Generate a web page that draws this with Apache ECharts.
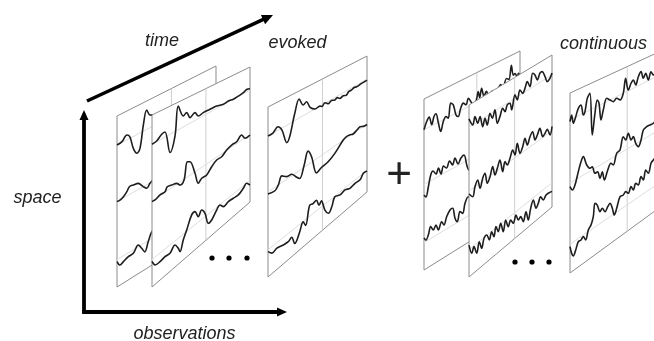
<!DOCTYPE html>
<html><head><meta charset="utf-8">
<script src="https://cdn.jsdelivr.net/npm/echarts@6/dist/echarts.min.js"></script>
<style>html,body{margin:0;padding:0;background:#fff}#c{width:654px;height:341px}</style>
</head><body><div id="c"></div>
<script>
// ---------- DATA: each trace is a list of [time fraction across panel, amplitude] ----------
const evokedP1T1 = [[0,0],[0.05,0.8],[0.10,4.9],[0.13,1.5],[0.165,-11.9],[0.2,-18.6],[0.232,-15.4],[0.266,6],[0.3,19.4],[0.333,12.7],[0.38,10],[0.42,5]];
const evokedP1T2 = [[0,0],[0.03,-0.2],[0.065,1.2],[0.1,4.3],[0.125,7.8],[0.165,7.3],[0.215,6.1],[0.265,0],[0.3,-3.6],[0.333,-0.5],[0.38,2]];
const evokedP1T3 = [[0,-1.9],[0.03,-7.2],[0.065,-5.9],[0.115,-3.9],[0.165,-3.6],[0.215,1.7],[0.25,-3.7],[0.28,-9.1],[0.315,-1.1],[0.345,5.7],[0.39,10]];

const evokedP2T1 = [[0,0],[0.048,0.7],[0.099,4.6],[0.133,5],[0.184,-18.3],[0.235,-4.5],[0.268,23.7],[0.319,11],[0.354,12.4],[0.388,5.6],[0.439,7.8],[0.472,2.6],[0.523,3.2],[0.592,2.8],[0.66,2.3],[0.728,0.4],[0.779,0.9],[0.83,0],[0.881,0.3],[0.932,0.9],[0.966,2.3],[1,1.2]];
const evokedP2T2 = [[0,-0.5],[0.031,-1],[0.082,0.6],[0.133,0.5],[0.156,3.9],[0.201,2.6],[0.252,0.9],[0.286,-3],[0.327,-0.7],[0.36,15.3],[0.388,13.5],[0.439,-1.5],[0.472,-13.7],[0.507,-11],[0.558,-11.1],[0.609,-6.2],[0.66,-2.9],[0.711,-3],[0.762,0.3],[0.813,1.9],[0.864,1.8],[0.915,5.1],[0.949,-0.4],[1,-0.5]];
const evokedP2T3 = [[0,-2],[0.031,-7.9],[0.082,-8.7],[0.133,-7.7],[0.184,-8.3],[0.235,-4.1],[0.268,-10],[0.286,-14.8],[0.319,-5.8],[0.354,1.5],[0.405,12.5],[0.439,13.1],[0.472,5.4],[0.507,9.4],[0.541,3.4],[0.574,-9.2],[0.609,-8.7],[0.66,-2.7],[0.694,-0.4],[0.728,-4.7],[0.779,-3.8],[0.83,-4.4],[0.881,-5.1],[0.932,-2.5],[0.966,-0.2],[1,-4.6]];

const evokedP3T1 = [[0,0],[0.05,0],[0.1,3.4],[0.14,-2],[0.19,-17.5],[0.22,-13],[0.27,7],[0.315,19],[0.355,10.7],[0.39,12],[0.425,4.5],[0.475,0],[0.525,0],[0.545,-1.5],[0.575,0.5],[0.61,-2.4],[0.64,-1],[0.675,-2.5],[0.7,-1.5],[0.725,-3.7],[0.76,-3],[0.79,-4.3],[0.815,-2],[0.845,-2],[0.87,-1],[0.895,-1.7],[0.945,-1.2],[1,-1]];
const evokedP3T2 = [[0,-2],[0.07,-3.5],[0.105,0],[0.14,6.6],[0.19,2.5],[0.24,1.4],[0.29,-5],[0.32,-8.3],[0.365,2],[0.405,13.3],[0.44,5.3],[0.49,-14.2],[0.54,-12.2],[0.61,-11],[0.675,-7.3],[0.76,0.3],[0.79,1.5],[0.83,0.7],[0.86,-0.5],[0.9,1],[0.93,2],[0.965,0],[1,-0.5]];
const evokedP3T3 = [[0,-1.8],[0.04,-6.5],[0.09,-5.5],[0.155,-7.5],[0.205,-8.2],[0.24,-6.6],[0.27,-15.2],[0.32,-7.6],[0.355,-0.3],[0.38,-5.8],[0.42,11],[0.455,10],[0.49,10.6],[0.515,3.6],[0.54,6],[0.575,-6],[0.61,-12],[0.645,-8],[0.675,-0.7],[0.727,-3],[0.778,-2],[0.828,-4.4],[0.879,-3.4],[0.93,-4],[0.963,0],[1,-0.7]];

const contAT1 = [[0,0],[0.028,6.9],[0.055,9.9],[0.08,1],[0.104,8.1],[0.125,9.7],[0.149,-0.2],[0.174,-10.5],[0.201,-1.8],[0.229,1.8],[0.253,-1.1],[0.278,12.7],[0.305,9.6],[0.333,-1.8],[0.357,-4.7],[0.382,2.4],[0.41,6.1],[0.438,3],[0.462,8.4],[0.497,1.7],[0.52,-3],[0.55,4],[0.565,10],[0.58,3],[0.6,11.4],[0.625,2],[0.65,6],[0.68,-2],[0.71,3],[0.74,-3],[0.77,2],[0.8,5],[0.82,-1],[0.86,8.2],[0.885,6],[0.91,18.8],[0.93,8],[0.95,8.7],[0.97,4],[0.985,7],[1,3]];
const contAT2 = [[0,-10.5],[0.02,-13.6],[0.045,-4.9],[0.07,5.8],[0.094,8.4],[0.125,3.7],[0.151,8.3],[0.177,0.9],[0.203,7.5],[0.234,3.8],[0.266,9.2],[0.297,3.5],[0.323,9.1],[0.354,1.4],[0.385,5.7],[0.417,7],[0.448,-5.7],[0.469,-10.8],[0.5,-4]];
const contAT3 = [[0,4.6],[0.02,1.4],[0.045,5],[0.07,11.9],[0.097,7],[0.125,10.4],[0.149,4],[0.184,10.2],[0.208,5.5],[0.236,12.2],[0.271,16.9],[0.299,17],[0.323,5.6],[0.347,0.8],[0.375,9.2],[0.403,5.9],[0.427,14.5],[0.461,19.1],[0.5,12]];

const contBT1 = [[0,8.5],[0.045,0],[0.072,6.9],[0.105,-1.4],[0.133,3.7],[0.165,-8],[0.193,-1],[0.22,-9.2],[0.253,0.8],[0.281,-5.6],[0.313,1],[0.341,-14],[0.373,-8.9],[0.406,-2.2],[0.434,-7.1],[0.461,-1.8],[0.494,-1.9],[0.514,-9.6],[0.554,3.3],[0.582,-3.2],[0.614,5.1],[0.647,0],[0.675,3.7],[0.702,8.8],[0.735,2.1],[0.767,13.8],[0.795,10.6],[0.823,4.2],[0.855,9.2],[0.883,9.3],[0.916,2.6],[0.943,-3.9],[0.976,-2.2],[1,1.7]];
const contBT2 = [[0,-3],[0.045,-8.4],[0.072,0],[0.105,4.7],[0.133,-5.3],[0.165,2.8],[0.193,6.1],[0.22,-5.5],[0.253,-0.9],[0.286,7.2],[0.313,-2.8],[0.341,2.2],[0.373,8.6],[0.406,-5.1],[0.434,3.3],[0.461,-1.7],[0.494,3.1],[0.527,9.4],[0.554,2.7],[0.582,12.8],[0.614,0.8],[0.647,5.5],[0.675,12.2],[0.702,3.8],[0.735,10.2],[0.767,13.2],[0.795,3.3],[0.823,6.6],[0.855,11.4],[0.888,1],[0.916,2.7],[0.943,5.1],[0.976,-2.6],[1,4.5]];
const contBT3 = [[0,4.3],[0.033,-6],[0.06,-1.2],[0.093,-10],[0.124,-0.5],[0.153,-9],[0.181,-0.9],[0.213,0.3],[0.245,-6.8],[0.273,-0.5],[0.301,-7.3],[0.325,1.1],[0.353,-5.8],[0.382,0.7],[0.413,-9.8],[0.442,0],[0.473,-8.8],[0.502,-4.1],[0.534,-9.5],[0.566,-3.3],[0.594,-10.2],[0.623,-8.8],[0.654,-15.9],[0.687,-8.1],[0.714,-18.2],[0.743,-8.5],[0.775,-2.3],[0.807,-12.7],[0.835,-9.6],[0.863,-4.9],[0.895,-10.3],[0.928,-7.5],[0.955,-7.6],[1,-8.7]];

const contCT1 = [[0,-1.7],[0.016,4.1],[0.032,-5],[0.055,0.4],[0.08,7.5],[0.106,9.5],[0.128,-1.7],[0.144,0.8],[0.166,13],[0.192,16.7],[0.214,-26.2],[0.24,-5.8],[0.262,6.3],[0.279,2.1],[0.298,-15.6],[0.32,-6.7],[0.353,3.3],[0.385,-0.1],[0.417,-3.4],[0.449,-1.7],[0.481,-5.1],[0.512,-0.1],[0.535,13.7],[0.56,0.7],[0.587,6.1],[0.609,8.2],[0.632,2],[0.657,9],[0.683,12.7],[0.705,4.9],[0.728,8.7],[0.753,0.7],[0.779,7.6],[0.801,3.2],[0.83,6]];
const contCT2 = [[0,-3.7],[0.022,-8.4],[0.048,-5],[0.08,6.4],[0.106,14.7],[0.128,18.4],[0.161,8],[0.192,2.8],[0.214,3],[0.24,-5.2],[0.266,-5.2],[0.288,-13.2],[0.311,-8],[0.33,-17.4],[0.363,-9.5],[0.394,-4.7],[0.416,-7.8],[0.449,1.9],[0.481,3.2],[0.512,14.5],[0.536,9.8],[0.561,15],[0.587,6.6],[0.609,8.6],[0.632,0.5],[0.657,-4.4],[0.683,0.7],[0.705,9.3],[0.738,10.6],[0.769,10.3],[0.801,10.1],[0.83,12]];
const contCT3 = [[0,-2.5],[0.016,-10.3],[0.032,-14],[0.055,-9.7],[0.08,-3.2],[0.106,-3.4],[0.128,-1.6],[0.151,-6.6],[0.176,1.6],[0.202,4.8],[0.224,11.5],[0.24,23.7],[0.262,20.4],[0.288,11.9],[0.311,13.7],[0.337,8.4],[0.363,11.6],[0.385,13.4],[0.407,6.8],[0.426,-1.3],[0.449,3.8],[0.481,13.1],[0.512,12.6],[0.536,14.2],[0.561,10.8],[0.587,15.6],[0.609,10.7],[0.632,15.7],[0.657,12.2],[0.683,18.7],[0.705,13.8],[0.728,22.2],[0.753,17.1],[0.779,25.2],[0.801,26.9],[0.83,28]];

const labels = {time:'time', evoked:'evoked', continuous:'continuous', space:'space', observations:'observations', plus:'+'};

// ---------- LAYOUT (panel corners in chart space, trace baselines) ----------
const panels = [
  {xL:117,xR:216,TL:116,TR:66,BL:287,BR:225,v:[0.17,0.5,0.84],traces:[evokedP1T1,evokedP1T2,evokedP1T3]},
  {xL:152,xR:250,TL:115,TR:67,BL:287,BR:202,v:[0.17,0.5,0.84],traces:[evokedP2T1,evokedP2T2,evokedP2T3]},
  {xL:268,xR:367,TL:107,TR:56,BL:277,BR:192,v:[0.17,0.5,0.84],traces:[evokedP3T1,evokedP3T2,evokedP3T3]},
  {xL:424,xR:520,TL:99,TR:51,BL:270,BR:210,v:[0.18,0.5,0.84],traces:[contAT1,contAT2,contAT3]},
  {xL:469,xR:552,TL:105,TR:55,BL:277,BR:207,v:[0.13,0.5,0.84],traces:[contBT1,contBT2,contBT3]},
  {xL:570,xR:674,TL:93,TR:45,BL:273,BR:197,v:[0.15,0.5,0.84],traces:[contCT1,contCT2,contCT3]}
];
const MID = 0.55;

function mapPt(p,u,v,a){
  const x = p.xL + u*(p.xR-p.xL);
  const yt = p.TL + u*(p.TR-p.TL);
  const yb = p.BL + u*(p.BR-p.BL);
  return [x, yt + v*(yb-yt) - a];
}

const series = [];
panels.forEach((p,k)=>{
  series.push({
    type:'custom', coordinateSystem:'cartesian2d', z: 10+4*k, silent:true,
    data:[[0,0]],
    renderItem:function(params, api){
      const c=(u,v)=>api.coord(mapPt(p,u,v,0));
      const ch=[];
      ch.push({type:'polygon', shape:{points:[c(0,0),c(1,0),c(1,1),c(0,1)]},
               style:{fill:'#fff', stroke:'#8c8c8c', lineWidth:1}});
      const m0=c(MID,0), m1=c(MID,1);
      ch.push({type:'line', shape:{x1:m0[0],y1:m0[1],x2:m1[0],y2:m1[1]}, style:{stroke:'#cfcfcf',lineWidth:1}});
      p.v.forEach(v=>{const a=c(0,v), b=c(1,v);
        ch.push({type:'line', shape:{x1:a[0],y1:a[1],x2:b[0],y2:b[1]}, style:{stroke:'#dedede',lineWidth:1}});});
      return {type:'group', children:ch};
    }
  });
  p.traces.forEach((tr,i)=>{
    series.push({
      type:'line', z: 11+4*k, silent:true, symbol:'none', smooth:0.35,
      lineStyle:{color:'#1e1e1e', width:1.6},
      data: tr.map(d=>mapPt(p,d[0],p.v[i],d[1]))
    });
  });
});

// decorative arrows, labels and ellipses
function arrow(x1,y1,x2,y2,w,hl,hw){
  const dx=x2-x1, dy=y2-y1, L=Math.hypot(dx,dy), ux=dx/L, uy=dy/L;
  const bx=x2-ux*hl, by=y2-uy*hl, px=-uy, py=ux;
  return [
    {type:'line', z:200, shape:{x1:x1,y1:y1,x2:bx+ux*1,y2:by+uy*1}, style:{stroke:'#000',lineWidth:w,lineCap:'butt'}},
    {type:'polygon', z:200, shape:{points:[[x2,y2],[bx+px*hw,by+py*hw],[bx-px*hw,by-py*hw]]}, style:{fill:'#000'}}
  ];
}
const font='italic 18px "Liberation Sans", Arial, sans-serif';
function txt(s,x,y,f){return {type:'text', z:200, style:{text:s,x:x,y:y,font:f||font,fill:'#222',align:'center',verticalAlign:'middle'}};}
const dots=[];
[[212,258],[229,258],[247,258],[515,262],[532,262],[549,262]].forEach(d=>dots.push({type:'circle',z:200,shape:{cx:d[0],cy:d[1],r:2.6},style:{fill:'#000'}}));

const graphic = [].concat(
  arrow(87,101,273,15,3.5,11,5),
  arrow(84,313.5,84,110,3.8,10,4.5),
  arrow(82.2,312,287,312,3.8,10,4.5),
  [txt(labels.time,162,40.5), txt(labels.evoked,297.5,43), txt(labels.continuous,603.5,43.7),
   txt(labels.space,37.5,198), txt(labels.observations,184.5,333.7),
   txt(labels.plus,399,176,'normal 44px "Liberation Sans", Arial, sans-serif')],
  dots
);

const chart = echarts.init(document.getElementById('c'), null, {renderer:'canvas'});
chart.setOption({
  animation:false,
  backgroundColor:'#fff',
  grid:{left:0,right:0,top:0,bottom:0},
  xAxis:{type:'value',min:0,max:654,show:false},
  yAxis:{type:'value',min:0,max:341,inverse:true,show:false},
  series:series,
  graphic:graphic
});
</script></body></html>
